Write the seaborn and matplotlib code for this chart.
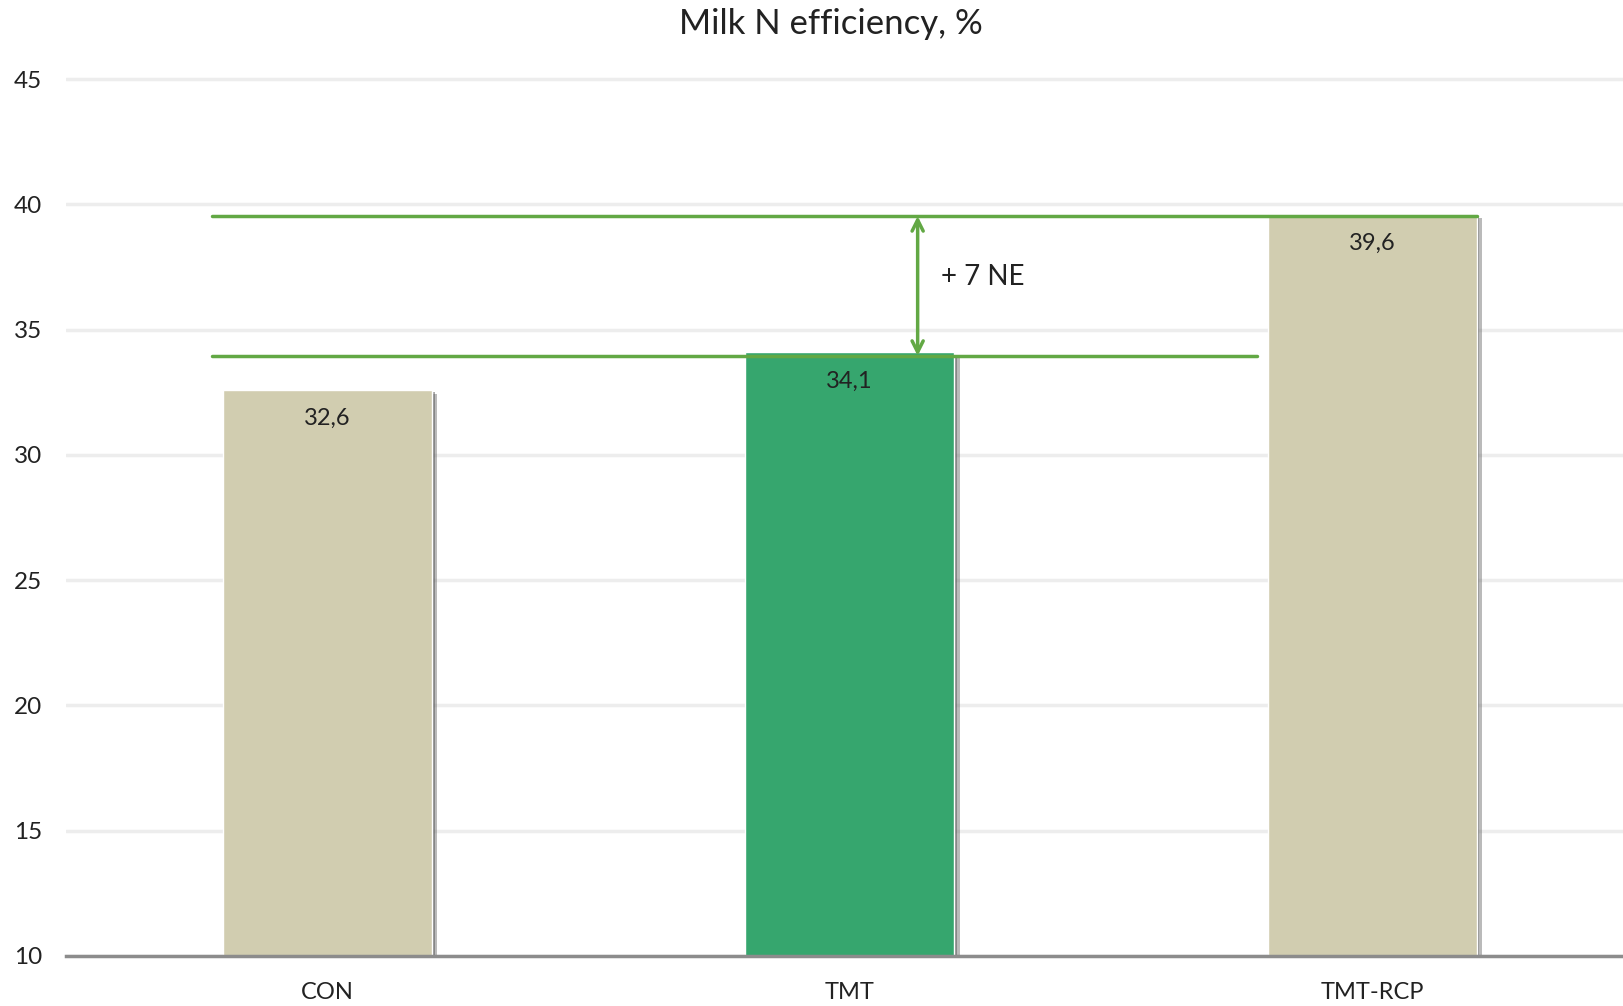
import matplotlib
matplotlib.use('Agg')
import matplotlib.pyplot as plt
import matplotlib.patheffects as pe
import seaborn as sns

# data
groups = ['CON', 'TMT', 'TMT-RCP']
efficiency = [32.6, 34.1, 39.6]
bar_colors = ['#D1CDB0', '#36A66E', '#D1CDB0']
diff_label = '+ 7 NE'

sns.set_style('white')
plt.rcParams['font.family'] = ['Lato', 'DejaVu Sans']

fig = plt.figure(figsize=(16.23, 10.06), dpi=100)
ax = fig.add_axes([66 / 1623, 50 / 1006, 1 - 66 / 1623, (956 - 74) / 1006])

sns.barplot(x=groups, y=efficiency, hue=groups, palette=bar_colors,
            width=0.4, legend=False, saturation=1, ax=ax, zorder=3)

# soft drop shadow like the spreadsheet bars
for bar in ax.patches:
    bar.set_path_effects([pe.SimplePatchShadow(offset=(4, -3), shadow_rgbFace='#666666', alpha=0.45),
                          pe.SimplePatchShadow(offset=(2, -2), shadow_rgbFace='#555555', alpha=0.5),
                          pe.Normal()])

ax.set_ylim(10, 45.2)
ax.set_xlim(-0.5, 2.48)
ax.set_yticks([10, 15, 20, 25, 30, 35, 40, 45])
ax.yaxis.grid(True, color='#EDEDED', lw=2.5, zorder=0)
ax.set_axisbelow(True)
for s in ['top', 'right', 'left']:
    ax.spines[s].set_visible(False)
ax.spines['bottom'].set_color('#8C8C8C')
ax.spines['bottom'].set_linewidth(2.5)
ax.spines['bottom'].set_zorder(5)
ax.tick_params(axis='y', length=0, pad=17, labelsize=17.5, labelcolor='#222222')
ax.tick_params(axis='x', length=0, pad=19, labelsize=17, labelcolor='#222222')
ax.set_xlabel('')
ax.set_ylabel('')

# value labels inside bars
for i, v in enumerate(efficiency):
    ax.text(i, v - 1.15, f'{v:.1f}'.replace('.', ','), ha='center', va='center',
            fontsize=17, color='#222222', zorder=6)

# reference lines and difference arrow
line_green = '#62A844'
ax.plot([-0.22, 1.78], [efficiency[1] - 0.15, efficiency[1] - 0.15], color=line_green, lw=2.5, zorder=4)
ax.plot([-0.22, 2.2], [efficiency[2] - 0.07, efficiency[2] - 0.07], color=line_green, lw=2.5, zorder=4)
ax.annotate('', xy=(1.13, efficiency[2] - 0.07), xytext=(1.13, efficiency[1] - 0.15),
            arrowprops=dict(arrowstyle='<->,head_length=0.8,head_width=0.4',
                            color=line_green, lw=2.5, shrinkA=0, shrinkB=0), zorder=5)
ax.text(1.175, 37.1, diff_label, ha='left', va='center', fontsize=20, color='#222222')

fig.text(831 / 1623, 1 - 24 / 1006, 'Milk N efficiency, %', ha='center', va='center',
         fontsize=25, color='#222222')

fig.savefig('out.png', dpi=100)
